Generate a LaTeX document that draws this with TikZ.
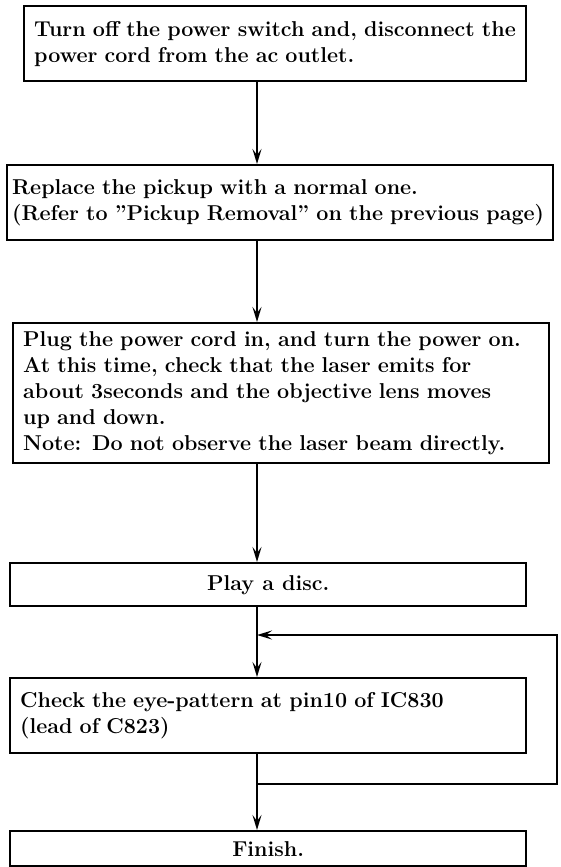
\documentclass[tikz,border=0pt]{standalone}
\usetikzlibrary{arrows.meta}
\begin{document}
\begin{tikzpicture}[x=1pt,y=-1pt,
  box/.style={draw, line width=2.4pt, anchor=north west, inner xsep=10pt, inner ysep=0pt,
    align=left, font=\bfseries\fontsize{21.5}{26}\selectfont},
  cbox/.style={draw, line width=2.4pt, anchor=north west, inner sep=0pt,
    align=center, font=\bfseries\fontsize{21.5}{26}\selectfont},
  wire/.style={line width=2.2pt},
  arr/.style={line width=2.2pt, -{Stealth[length=15pt,width=9pt,inset=6pt]}}]
\useasboundingbox (0,0) rectangle (560,867);
\coordinate (ax) at (257,0);
\node[box, text width=482pt, minimum height=75pt] (b1) at (23,5)
  {Turn off the power switch and, disconnect the\\power cord from the ac outlet.};
\node[box, inner xsep=5pt, text width=536pt, minimum height=75pt] (b2) at (6,164)
  {Replace the pickup with a normal one.\\(Refer to ''Pickup Removal'' on the previous page)};
\node[box, text width=516pt, minimum height=140pt] (b3) at (12,322)
  {Plug the power cord in, and turn the power on.\\At this time, check that the laser emits for\\about 3seconds and the objective lens moves\\up and down.\\Note: Do not observe the laser beam directly.};
\node[cbox, minimum width=516pt, minimum height=43pt] (b4) at (9,562) {Play a disc.};
\node[box, text width=496pt, minimum height=75pt] (b5) at (9,677)
  {Check the eye-pattern at pin10 of IC830\\(lead of C823)};
\node[cbox, minimum width=516pt, minimum height=35pt] (b6) at (9,830) {Finish.};
\coordinate (br) at (257,784);
\coordinate (fr) at (557,784);
\coordinate (ft) at (557,635);
\coordinate (fj) at (257,635);
\draw[arr] (b1.south -| ax) -- (b2.north -| ax);
\draw[arr] (b2.south -| ax) -- (b3.north -| ax);
\draw[arr] (b3.south -| ax) -- (b4.north -| ax);
\draw[arr] (b4.south -| ax) -- (b5.north -| ax);
\draw[wire] (b5.south -| ax) -- (br);
\draw[arr] (br) -- (b6.north -| ax);
\draw[arr] (br) -- (fr) -- (ft) -- (fj);
\end{tikzpicture}
\end{document}
